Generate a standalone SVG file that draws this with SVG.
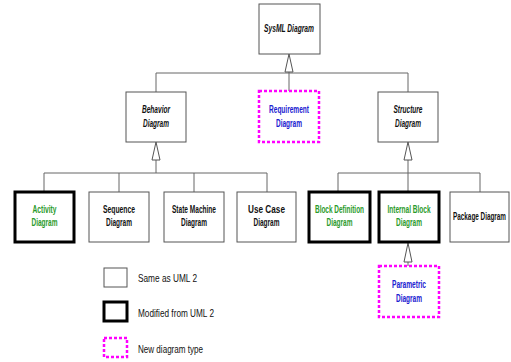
<svg xmlns="http://www.w3.org/2000/svg" width="511" height="362" viewBox="0 0 511 362">
<style>
.b{fill:#fff;stroke:#555;stroke-width:1}
.m{fill:#fff;stroke:#000;stroke-width:3}
.n{fill:#fff;stroke:#f0f;stroke-width:2.5;stroke-dasharray:3,2}
.t{font-family:"Liberation Sans",Arial,sans-serif;font-size:10.5px;font-weight:bold;text-anchor:middle}
.i{font-style:italic;fill:#111}
.k{fill:#111}
.g{fill:#2a9a2a}
.u{fill:#2020d0}
.l{font-family:"Liberation Sans",Arial,sans-serif;font-size:11px;fill:#111}
.c{fill:none;stroke:#666;stroke-width:1}
.h{fill:#fff;stroke:#555;stroke-width:1}
</style>
<rect width="511" height="362" fill="#fff"/>
<g id="connectors">
<path class="c" d="M289 72V73M156 73H408M156 73V92M289 73V91M408 73V92"/>
<polygon class="h" points="289,54 285,72 293,72"/>
<path class="c" d="M156 160V173M44 173H267M44 173V192M119 173V192M194 173V192M267 173V192"/>
<polygon class="h" points="156,142 152,160 160,160"/>
<path class="c" d="M408 160V173M338 173H480M338 173V192M408 173V192M480 173V192"/>
<polygon class="h" points="408,142 404,160 412,160"/>
<path class="c" d="M408 262V266"/>
<polygon class="h" points="408,243 404,262 412,262"/>
</g>
<g id="sysml"><rect class="b" x="259" y="4" width="61" height="50"/><text class="t i" transform="translate(289,32) scale(0.65,1)" textLength="76.9" lengthAdjust="spacingAndGlyphs">SysML Diagram</text></g>
<g id="behavior"><rect class="b" x="126" y="92" width="60" height="50"/><text class="t i" transform="translate(156,113) scale(0.65,1)" textLength="43.1" lengthAdjust="spacingAndGlyphs">Behavior</text><text class="t i" transform="translate(156,127) scale(0.65,1)" textLength="40" lengthAdjust="spacingAndGlyphs">Diagram</text></g>
<g id="requirement"><rect class="n" x="259" y="91" width="60" height="51"/><text class="t u" transform="translate(289,113) scale(0.65,1)" textLength="61.5" lengthAdjust="spacingAndGlyphs">Requirement</text><text class="t u" transform="translate(289,127) scale(0.65,1)" textLength="40" lengthAdjust="spacingAndGlyphs">Diagram</text></g>
<g id="structure"><rect class="b" x="378" y="92" width="60" height="50"/><text class="t i" transform="translate(408,113) scale(0.65,1)" textLength="44.6" lengthAdjust="spacingAndGlyphs">Structure</text><text class="t i" transform="translate(408,127) scale(0.65,1)" textLength="40" lengthAdjust="spacingAndGlyphs">Diagram</text></g>
<g id="activity"><rect class="m" x="15" y="192" width="59" height="50"/><text class="t g" transform="translate(44.5,213) scale(0.65,1)" textLength="36.9" lengthAdjust="spacingAndGlyphs">Activity</text><text class="t g" transform="translate(44.5,226) scale(0.65,1)" textLength="40" lengthAdjust="spacingAndGlyphs">Diagram</text></g>
<g id="sequence"><rect class="b" x="89" y="192" width="60" height="50"/><text class="t k" transform="translate(119,213) scale(0.65,1)" textLength="49.2" lengthAdjust="spacingAndGlyphs">Sequence</text><text class="t k" transform="translate(119,226) scale(0.65,1)" textLength="40" lengthAdjust="spacingAndGlyphs">Diagram</text></g>
<g id="statemachine"><rect class="b" x="164" y="192" width="60" height="50"/><text class="t k" transform="translate(194,213) scale(0.65,1)" textLength="67.7" lengthAdjust="spacingAndGlyphs">State Machine</text><text class="t k" transform="translate(194,226) scale(0.65,1)" textLength="40" lengthAdjust="spacingAndGlyphs">Diagram</text></g>
<g id="usecase"><rect class="b" x="237" y="192" width="59" height="50"/><text class="t k" transform="translate(266.5,213) scale(0.65,1)" textLength="56.9" lengthAdjust="spacingAndGlyphs">Use Case</text><text class="t k" transform="translate(266.5,226) scale(0.65,1)" textLength="40" lengthAdjust="spacingAndGlyphs">Diagram</text></g>
<g id="blockdef"><rect class="m" x="309" y="192" width="61" height="50"/><text class="t g" transform="translate(339.5,213) scale(0.65,1)" textLength="75.4" lengthAdjust="spacingAndGlyphs">Block Definition</text><text class="t g" transform="translate(339.5,226) scale(0.65,1)" textLength="40" lengthAdjust="spacingAndGlyphs">Diagram</text></g>
<g id="internalblock"><rect class="m" x="379" y="192" width="60" height="50"/><text class="t g" transform="translate(409,213) scale(0.65,1)" textLength="66.2" lengthAdjust="spacingAndGlyphs">Internal Block</text><text class="t g" transform="translate(409,226) scale(0.65,1)" textLength="40" lengthAdjust="spacingAndGlyphs">Diagram</text></g>
<g id="package"><rect class="b" x="450" y="192" width="59" height="50"/><text class="t k" transform="translate(479.5,220) scale(0.65,1)" textLength="81.5" lengthAdjust="spacingAndGlyphs">Package Diagram</text></g>
<g id="parametric"><rect class="n" x="379" y="266" width="60" height="51"/><text class="t u" transform="translate(409,288) scale(0.65,1)" textLength="52.3" lengthAdjust="spacingAndGlyphs">Parametric</text><text class="t u" transform="translate(409,302) scale(0.65,1)" textLength="40" lengthAdjust="spacingAndGlyphs">Diagram</text></g>
<g id="legend">
<rect class="b" x="104" y="268" width="23" height="19"/><text class="l" x="138" y="282" textLength="59" lengthAdjust="spacingAndGlyphs">Same as UML 2</text>
<rect class="m" x="104" y="302" width="23" height="19"/><text class="l" x="138" y="317" textLength="76" lengthAdjust="spacingAndGlyphs">Modified from UML 2</text>
<rect class="n" x="104" y="338" width="23" height="19"/><text class="l" x="138" y="353" textLength="65" lengthAdjust="spacingAndGlyphs">New diagram type</text>
</g>
</svg>
